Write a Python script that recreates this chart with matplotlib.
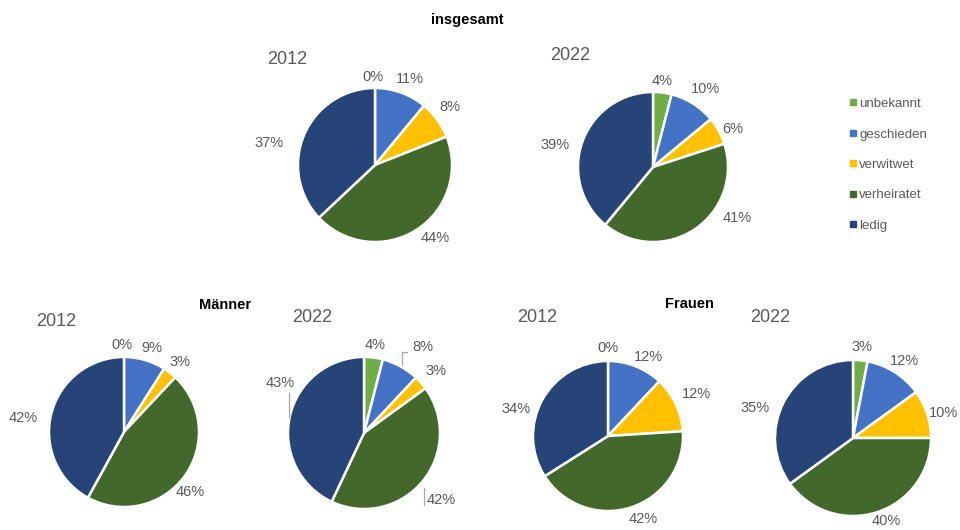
import matplotlib
matplotlib.use('Agg')
import matplotlib.pyplot as plt
from matplotlib.lines import Line2D

plt.rcParams['font.family'] = ['Liberation Sans', 'DejaVu Sans']

categories = ['unbekannt', 'geschieden', 'verwitwet', 'verheiratet', 'ledig']
colors = ['#70AD47', '#4472C4', '#FFC000', '#43682B', '#264478']

gesamt_2012 = [0, 11, 8, 44, 37]
gesamt_2022 = [4, 10, 6, 41, 39]
maenner_2012 = [0, 9, 3, 46, 42]
maenner_2022 = [4, 8, 3, 42, 43]
frauen_2012 = [0, 12, 12, 42, 34]
frauen_2022 = [3, 12, 10, 40, 35]

W, H = 960, 530
fig = plt.figure(figsize=(W / 100, H / 100), dpi=100)

# layout in pixels: values, centre x, centre y, radius, year, year label x, y, label centres
pies = [
    (gesamt_2012, 375, 165, 77, '2012', 267, 60,
     [(373, 77), (410, 79), (450, 107), (435, 238), (269, 143)]),
    (gesamt_2022, 653, 167, 75, '2022', 550, 55,
     [(662, 81), (706, 89), (733, 129), (737, 218), (555, 145)]),
    (maenner_2012, 124, 432, 75, '2012', 36, 322,
     [(122, 345), (152, 348), (180, 362), (190, 492), (23, 418)]),
    (maenner_2022, 364, 433, 76, '2022', 292, 318,
     [(375, 345), (423, 347), (436, 371), (441, 500), (280, 383)]),
    (frauen_2012, 608, 436, 75, '2012', 517, 317,
     [(608, 348), (648, 357), (696, 394), (643, 519), (516, 409)]),
    (frauen_2022, 853, 438, 78, '2022', 750, 318,
     [(862, 347), (904, 361), (944, 413), (886, 521), (755, 408)]),
]

grey = '#595959'

axes = []
for vals, cx, cy, r, year, yx, yy, lab_xy in pies:
    ax = fig.add_axes([(cx - r) / W, (H - cy - r) / H, 2 * r / W, 2 * r / H])
    wedges, texts = ax.pie(vals, colors=colors, startangle=90, counterclock=False,
                           labels=[f'{v}%' for v in vals],
                           wedgeprops=dict(edgecolor='white', linewidth=1.8),
                           textprops=dict(color=grey, fontsize=10.5))
    for t, (px, py) in zip(texts, lab_xy):
        t.set_position(((px - cx) / r, (cy - py) / r))
        t.set_ha('center')
        t.set_va('center')
    ax.set_xlim(-1, 1)
    ax.set_ylim(-1, 1)
    ax.axis('off')
    axes.append(ax)
    fig.text(yx / W, 1 - yy / H, year, fontsize=13, color=grey, ha='left', va='center')

# leader lines (Männer 2022)
ax = axes[3]
lc = dict(color='#A6A6A6', lw=0.9, clip_on=False)
ax.plot([0.56, 0.50, 0.50], [1.066, 1.066, 0.895], **lc)
ax.plot([-0.987, -0.987], [0.526, 0.21], **lc)
ax.plot([0.79, 0.79], [-0.72, -0.95], **lc)

fig.text(467 / W, 1 - 20 / H, 'insgesamt', fontsize=10.5, fontweight='bold', ha='center', va='center')
fig.text(225 / W, 1 - 305 / H, 'Männer', fontsize=10.5, fontweight='bold', ha='center', va='center')
fig.text(689 / W, 1 - 304 / H, 'Frauen', fontsize=10.5, fontweight='bold', ha='center', va='center')

handles = [Line2D([], [], marker='s', linestyle='none', markersize=5, color=c) for c in colors]
leg = fig.legend(handles, categories, loc='upper left', bbox_to_anchor=(836 / W, 1 - 86 / H),
                 frameon=False, fontsize=9.5, labelspacing=1.38, handletextpad=0.05,
                 handlelength=0.8, labelcolor=grey)

fig.savefig('out.png', dpi=100)
